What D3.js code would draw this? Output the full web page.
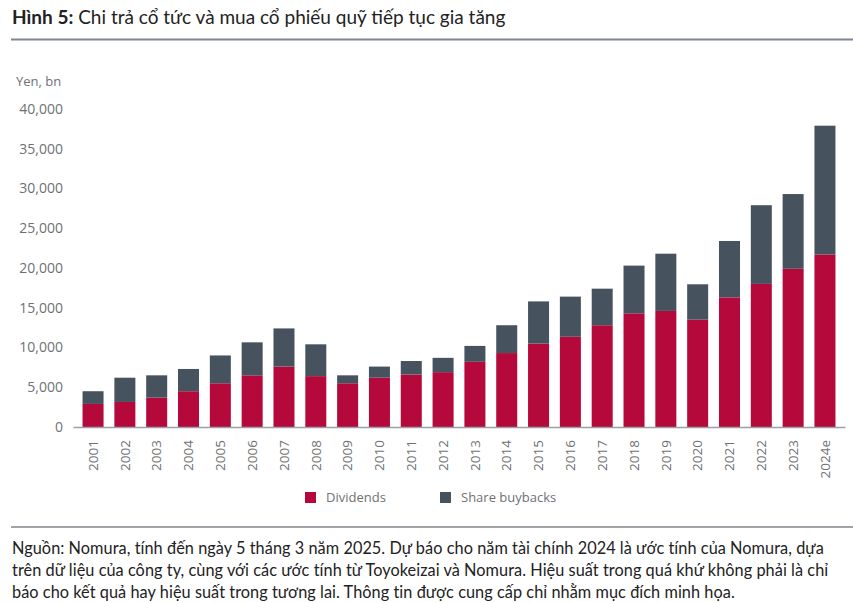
<!DOCTYPE html>
<html>
<head>
<meta charset="utf-8">
<script src="https://cdn.jsdelivr.net/npm/d3@7"></script>
<style>
  body { margin: 0; background: #fff; }
  .tick text { fill: #6f7175; font-family: "Open Sans", sans-serif; }
</style>
</head>
<body>
<div id="chart"></div>
<script>
// chart data (Yen, bn)
var years = ["2001", "2002", "2003", "2004", "2005", "2006", "2007", "2008", "2009", "2010", "2011", "2012",
  "2013", "2014", "2015", "2016", "2017", "2018", "2019", "2020", "2021", "2022", "2023", "2024e"];
var dividends = [2900, 3150, 3700, 4500, 5500, 6500, 7600, 6400, 5500, 6200, 6600, 6900,
  8200, 9300, 10500, 11350, 12800, 14300, 14600, 13500, 16300, 18000, 19900, 21700];
var buybacks = [1600, 3050, 2800, 2800, 3500, 4150, 4800, 4000, 1000, 1400, 1700, 1800,
  2000, 3500, 5300, 5050, 4600, 6000, 7200, 4450, 7100, 9900, 9400, 16200];
var yTicks = [0, 5000, 10000, 15000, 20000, 25000, 30000, 35000, 40000];
var seriesNames = ["Dividends", "Share buybacks"];
var colors = ["#b5083b", "#46535e"];

var svgWidth = 853;
var svgHeight = 603;

var svg = d3.select("#chart")
  .append("svg")
  .attr("width", svgWidth)
  .attr("height", svgHeight);

// title
var title = svg.append("text")
  .attr("x", 12)
  .attr("y", 24)
  .style("font-family", "Lato, sans-serif")
  .style("font-size", "19px")
  .attr("fill", "#222");
title.append("tspan").style("font-weight", "bold").text("Hình 5:");
title.append("tspan").text(" Chi trả cổ tức và mua cổ phiếu quỹ tiếp tục gia tăng");

svg.append("line")
  .attr("x1", 11).attr("x2", svgWidth)
  .attr("y1", 39.5).attr("y2", 39.5)
  .attr("stroke", "#80868c")
  .attr("stroke-width", 2);

svg.append("text")
  .attr("x", 16)
  .attr("y", 86)
  .attr("fill", "#6f7175")
  .style("font-family", "Open Sans, sans-serif")
  .style("font-size", "13px")
  .text("Yen, bn");

// table for the stack
var table = years.map(function(y, i) {
  return { year: y, Dividends: dividends[i], "Share buybacks": buybacks[i] };
});
var stacked = d3.stack().keys(seriesNames)(table);

// scales
var xBandScale = d3.scaleBand()
  .domain(years)
  .range([73, 845])
  .paddingInner(0.34)
  .paddingOuter(0.3);

var yLinearScale = d3.scaleLinear()
  .domain([0, 40000])
  .range([427, 109]);

// y axis (labels only)
var leftAxis = d3.axisLeft(yLinearScale)
  .tickValues(yTicks)
  .tickFormat(d3.format(","))
  .tickSize(0)
  .tickPadding(0);

var yAxisG = svg.append("g")
  .attr("transform", "translate(63, 0)")
  .call(leftAxis);
yAxisG.select(".domain").remove();
yAxisG.selectAll("text").style("font-size", "14px");

// bars
svg.append("g")
  .selectAll("g")
  .data(stacked)
  .enter()
  .append("g")
  .attr("fill", function(d, i) { return colors[i]; })
  .selectAll("rect")
  .data(function(d) { return d; })
  .enter()
  .append("rect")
  .attr("x", function(d) { return xBandScale(d.data.year); })
  .attr("y", function(d) { return yLinearScale(d[1]); })
  .attr("height", function(d) { return yLinearScale(d[0]) - yLinearScale(d[1]); })
  .attr("width", xBandScale.bandwidth());

// x axis
var bottomAxis = d3.axisBottom(xBandScale)
  .tickSize(0)
  .tickSizeOuter(0);

var xAxisG = svg.append("g")
  .attr("transform", "translate(0, 427)")
  .call(bottomAxis);
xAxisG.select(".domain")
  .attr("stroke", "#9aa0a6")
  .attr("stroke-width", 1.5);
xAxisG.selectAll("text")
  .attr("transform", "rotate(-90)")
  .attr("x", -13)
  .attr("y", 0)
  .attr("dy", "0.35em")
  .style("text-anchor", "end")
  .style("font-size", "13.5px");

// legend
var legendX = [305, 440];
var legend = svg.append("g")
  .selectAll("g")
  .data(seriesNames)
  .enter()
  .append("g")
  .attr("transform", function(d, i) { return `translate(${legendX[i]}, 492)`; });
legend.append("rect")
  .attr("width", 11)
  .attr("height", 11)
  .attr("fill", function(d, i) { return colors[i]; });
legend.append("text")
  .attr("x", 21)
  .attr("y", 5.5)
  .attr("dy", "0.35em")
  .attr("fill", "#6f7175")
  .style("font-family", "Open Sans, sans-serif")
  .style("font-size", "13px")
  .text(function(d) { return d; });

svg.append("line")
  .attr("x1", 11).attr("x2", svgWidth)
  .attr("y1", 527).attr("y2", 527)
  .attr("stroke", "#80868c")
  .attr("stroke-width", 1.5);

// footnote
var footLines = [
  "Nguồn: Nomura, tính đến ngày 5 tháng 3 năm 2025. Dự báo cho năm tài chính 2024 là ước tính của Nomura, dựa",
  "trên dữ liệu của công ty, cùng với các ước tính từ Toyokeizai và Nomura. Hiệu suất trong quá khứ không phải là chỉ",
  "báo cho kết quả hay hiệu suất trong tương lai. Thông tin được cung cấp chỉ nhằm mục đích minh họa."
];
svg.append("g")
  .selectAll("text")
  .data(footLines)
  .enter()
  .append("text")
  .attr("x", 12)
  .attr("y", function(d, i) { return 554 + i * 22; })
  .attr("fill", "#222")
  .style("font-family", "Lato, sans-serif")
  .style("font-size", "16.3px")
  .style("letter-spacing", "0.05px")
  .text(function(d) { return d; });
</script>
</body>
</html>
